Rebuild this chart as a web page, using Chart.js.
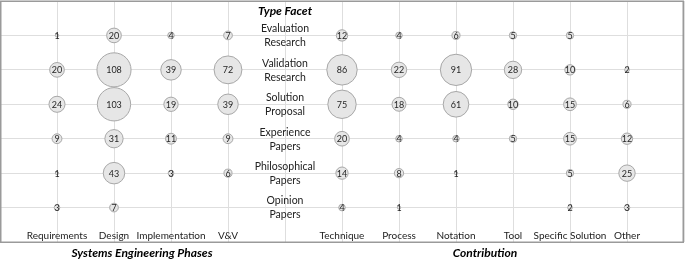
<!DOCTYPE html>
<html>
<head>
<meta charset="utf-8">
<script src="https://cdn.jsdelivr.net/npm/chart.js@4.4.1/dist/chart.umd.min.js"></script>
<style>
html,body{margin:0;padding:0;background:#fff;}
#wrap{width:685px;height:261px;}
</style>
</head>
<body>
<div id="wrap"><canvas id="c" width="685" height="261"></canvas></div>
<script>
// Row labels (type facet), top to bottom
const typeFacets = [["Evaluation","Research"],["Validation","Research"],["Solution","Proposal"],["Experience","Papers"],["Philosophical","Papers"],["Opinion","Papers"]];
// Column categories
const phases = ["Requirements","Design","Implementation","V&V"];
const contributions = ["Technique","Process","Notation","Tool","Specific Solution","Other"];
// Counts per column, in row order (null = no papers)
const requirementsCounts   = [1, 20, 24, 9, 1, 3];
const designCounts         = [20, 108, 103, 31, 43, 7];
const implementationCounts = [4, 39, 19, 11, 3, null];
const vvCounts             = [7, 72, 39, 9, 6, null];
const techniqueCounts      = [12, 86, 75, 20, 14, 4];
const processCounts        = [4, 22, 18, 4, 8, 1];
const notationCounts       = [6, 91, 61, 4, 1, null];
const toolCounts           = [5, 28, 10, 5, null, null];
const specificCounts       = [5, 10, 15, 15, 5, 2];
const otherCounts          = [null, 2, 6, 12, 25, 3];

const phaseColumns = [requirementsCounts, designCounts, implementationCounts, vvCounts];
const contribColumns = [techniqueCounts, processCounts, notationCounts, toolCounts, specificCounts, otherCounts];

const columns = [];
phaseColumns.forEach((c, i) => columns.push({x: i + 1, label: phases[i], counts: c}));
contribColumns.forEach((c, i) => columns.push({x: i + 6, label: contributions[i], counts: c}));

const points = [];
columns.forEach(col => {
  col.counts.forEach((v, row) => {
    if (v !== null) points.push({x: col.x, y: row + 1, v: v, r: 1.64 * Math.sqrt(v)});
  });
});

const FONT = "Lato, 'Open Sans', sans-serif";

const labelPlugin = {
  id: 'labels',
  beforeDraw(chart) {
    const ctx = chart.ctx;
    ctx.save();
    ctx.fillStyle = '#fff';
    ctx.fillRect(0, 0, chart.width, chart.height);
    ctx.restore();
  },
  afterDatasetsDraw(chart) {
    const ctx = chart.ctx;
    const xs = chart.scales.x, ys = chart.scales.y;
    const ca = chart.chartArea;
    ctx.save();
    // outer border
    ctx.strokeStyle = '#9a9a9a';
    ctx.lineWidth = 1.5;
    ctx.strokeRect(ca.left + 0.75, ca.top + 0.25, ca.right - ca.left - 1.5, ca.bottom - ca.top);
    // bubble value labels
    ctx.fillStyle = '#262626';
    ctx.font = '9px ' + FONT;
    ctx.textAlign = 'center';
    ctx.textBaseline = 'middle';
    points.forEach(p => {
      ctx.fillText(String(p.v), xs.getPixelForValue(p.x), ys.getPixelForValue(p.y) + 0.5);
    });
    // row labels in the middle column
    ctx.fillStyle = '#222';
    ctx.font = '10.5px ' + FONT;
    const midX = xs.getPixelForValue(5);
    typeFacets.forEach((lines, i) => {
      const y = ys.getPixelForValue(i + 1);
      ctx.fillText(lines[0], midX, y - 6.5);
      ctx.fillText(lines[1], midX, y + 7.5);
    });
    ctx.font = 'italic bold 12px ' + FONT;
    ctx.fillStyle = '#000';
    ctx.fillText('Type Facet', midX, 11);
    // column labels
    ctx.font = '10px ' + FONT;
    ctx.fillStyle = '#222';
    columns.forEach(col => {
      ctx.fillText(col.label, xs.getPixelForValue(col.x), ca.bottom - 6);
    });
    // axis titles
    ctx.font = 'italic bold 12px ' + FONT;
    ctx.fillStyle = '#000';
    ctx.fillText('Systems Engineering Phases', 142, 253);
    ctx.fillText('Contribution', 485, 253);
    ctx.restore();
  }
};

new Chart(document.getElementById('c'), {
  type: 'bubble',
  data: {
    datasets: [{
      data: points,
      backgroundColor: '#e6e6e6',
      borderColor: '#a8a8a8',
      borderWidth: 1,
      clip: false
    }]
  },
  options: {
    responsive: false,
    animation: false,
    events: [],
    layout: {autoPadding: false, padding: {left: 0, right: 1, top: 1, bottom: 19}},
    plugins: {legend: {display: false}, tooltip: {enabled: false}},
    scales: {
      x: {
        type: 'linear', min: 0, max: 12,
        ticks: {display: false, stepSize: 1},
        grid: {color: '#dedede', lineWidth: 1, drawTicks: false},
        border: {display: false}
      },
      y: {
        type: 'linear', min: 0, max: 7, reverse: true,
        ticks: {display: false, stepSize: 1},
        grid: {color: '#dedede', lineWidth: 1, drawTicks: false},
        border: {display: false}
      }
    }
  },
  plugins: [labelPlugin]
});
</script>
</body>
</html>
